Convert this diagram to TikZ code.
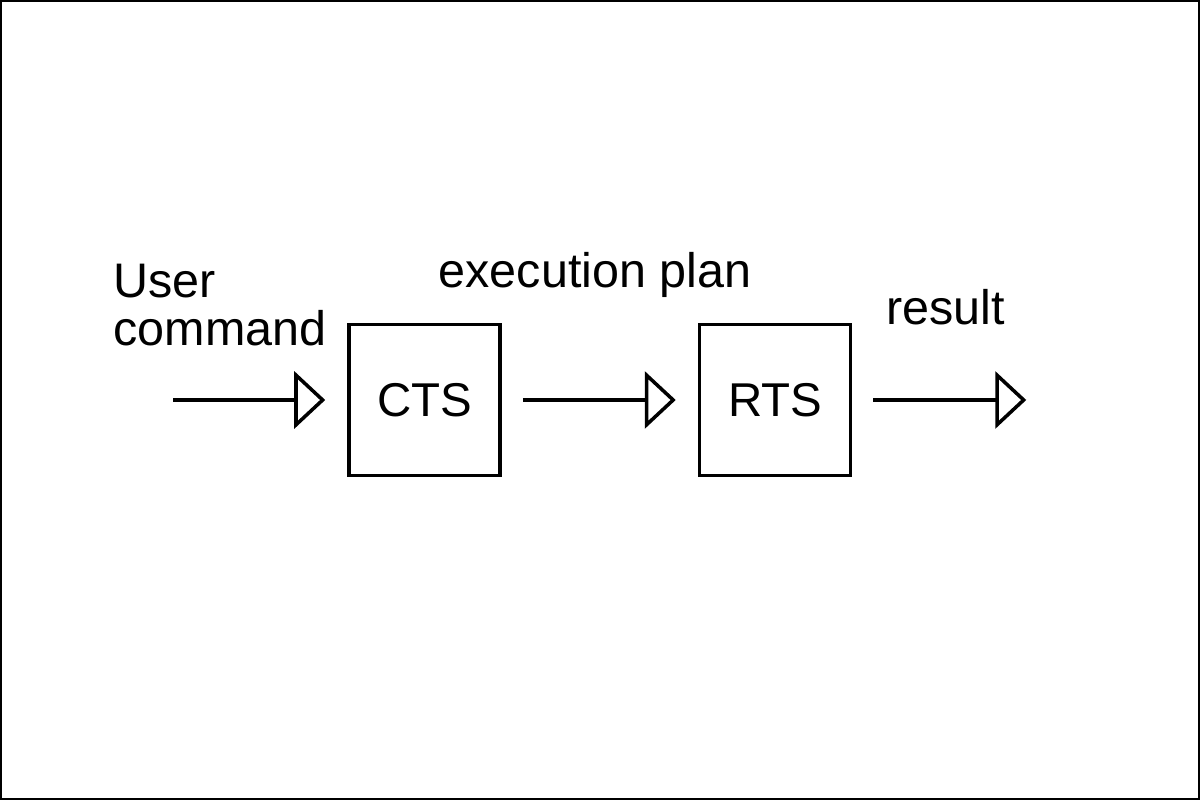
\documentclass[tikz,border=0pt]{standalone}
\usepackage{fontspec}
\setmainfont{Liberation Sans}
\usetikzlibrary{arrows.meta,positioning}

\begin{document}
\begin{tikzpicture}[
    sysbox/.style={draw,line width=1pt,minimum size=1.51cm,inner sep=0pt,
                   font=\fontsize{13.5}{13.8}\selectfont},
    flowarrow/.style={line width=1pt,
                      -{Triangle[open,length=0.31cm,width=0.57cm,line width=1pt]}},
    label/.style={inner sep=0pt,font=\fontsize{13.8}{13.8}\selectfont}
  ]
  \useasboundingbox (0,0) rectangle (12,8);
  \draw[line width=0.02cm] (0.01,0.01) rectangle (11.99,7.99);

  % the two stages
  \node[sysbox] (CTS) at (4.245,4.0) {CTS};
  \node[sysbox,right=1.96cm of CTS] (RTS) {RTS};
  \coordinate[left=1.74cm of CTS.west] (in);
  \coordinate[right=1.74cm of RTS.east] (out);

  % connectors
  \draw[flowarrow,shorten >=0.22cm] (in) -- (CTS);
  \draw[flowarrow,shorten <=0.21cm,shorten >=0.22cm] (CTS) -- (RTS);
  \draw[flowarrow,shorten <=0.21cm] (RTS) -- (out);

  % labels
  \node[label,align=left,anchor=west] (cmd) at (1.13,4.95) {User\\command};
  \node[label,anchor=base] (plan) at (5.95,5.12) {execution plan};
  \node[label,anchor=base] (res) at (9.455,4.75) {result};
\end{tikzpicture}
\end{document}
